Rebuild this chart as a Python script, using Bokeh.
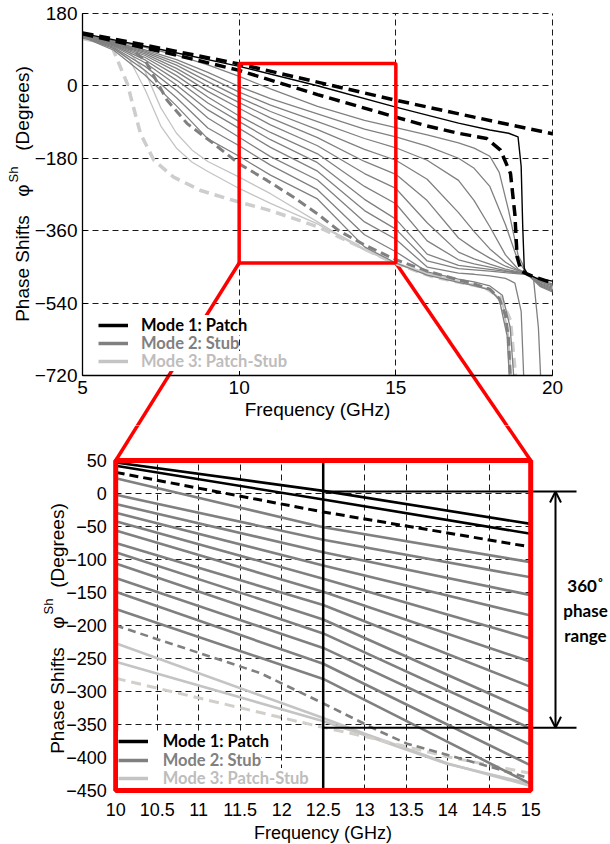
from bokeh.plotting import figure
from bokeh.models import (Range1d, FixedTicker, NumeralTickFormatter, Arrow, OpenHead,
                          Label, Legend, LegendItem, BoxAnnotation, Grid)
from bokeh.layouts import column
from bokeh.embed import file_html
from bokeh.resources import INLINE
import math

# ======================= DATA : overview plot (top) =======================
top_x_ticks = [5, 10, 15, 20]
top_y_ticks = [-720, -540, -360, -180, 0, 180]

patch_dash_hi_x = [5, 7.5, 10, 12.5, 15, 17.5, 20]
patch_dash_hi_y = [131, 93, 54, 9, -36, -78, -119]
patch_solid_x = [5, 7.5, 10, 12.5, 15, 17, 18, 18.6, 18.9, 19.0, 19.05, 19.1, 19.2, 19.5, 20]
patch_solid_y = [130, 90, 48, 0, -53, -93, -110, -118, -127, -200, -350, -455, -467, -478, -485]
patch_dash_lo_x = [5, 7.5, 10, 12.5, 15, 16, 17, 17.9, 18.34, 18.66, 18.8, 18.87, 19.0, 19.2, 20]
patch_dash_lo_y = [129, 85, 38, -22, -78, -100, -118, -131, -160, -218, -320, -425, -460, -468, -490]

stub_head_x = [5, 6, 7, 8, 9, 10, 11, 12.5, 14, 15, 16, 17]
stub_head_y = [
    [127, 111, 95, 76, 52, 23, -8, -51, -86, -104, -122, -142],
    [126, 108, 89, 65, 33, -2, -32, -70, -108, -127, -150, -180],
    [126, 107, 86, 58, 22, -16, -48, -89, -131, -154, -185, -235],
    [125, 106, 83, 51, 10, -29, -64, -109, -158, -185, -232, -315],
    [125, 105, 79, 43, -2, -42, -80, -129, -188, -220, -285, -378],
    [124, 103, 75, 35, -14, -56, -97, -149, -218, -255, -340, -413],
    [124, 102, 70, 25, -28, -75, -116, -169, -250, -293, -385, -432],
    [123, 100, 64, 14, -43, -89, -134, -191, -282, -331, -418, -446],
    [123, 98, 57, 2, -60, -106, -153, -212, -310, -356, -435, -454],
    [122, 95, 48, -12, -80, -128, -176, -234, -338, -381, -450, -465],
    [122, 92, 38, -30, -105, -149, -197, -258, -370, -412, -462, -480],
    [121, 88, 26, -50, -132, -175, -222, -281, -400, -440, -470, -488],
]
stub_tail_x = [
    [17.5, 18, 18.3, 18.6, 18.9, 19.2, 19.6, 20],
    [17.5, 18, 18.5, 18.9, 19.2, 19.6, 20],
    [17.5, 18, 18.5, 18.9, 19.2, 19.6, 20],
    [17.5, 18, 18.5, 18.9, 19.2, 19.6, 20],
    [17.5, 18, 18.5, 19.2, 19.6, 20],
    [17.5, 18, 18.5, 19.2, 19.6, 20],
    [17.5, 18, 18.5, 19.2, 19.6, 20],
    [17.5, 18, 18.5, 19.2, 19.6, 20],
    [17.5, 18, 18.5, 19.2, 19.4, 19.55, 19.62],
    [17.5, 18, 18.5, 18.8, 19.0, 19.08],
    [17.5, 18, 18.4, 18.65, 18.76],
    [17.5, 18, 18.3, 18.55, 18.62],
]
stub_tail_y = [
    [-155, -175, -215, -310, -420, -467, -483, -492],
    [-205, -250, -345, -435, -467, -485, -495],
    [-285, -350, -420, -455, -467, -487, -497],
    [-362, -405, -438, -458, -467, -490, -500],
    [-405, -428, -448, -467, -492, -503],
    [-430, -443, -455, -467, -494, -506],
    [-442, -450, -459, -467, -496, -509],
    [-451, -456, -461, -467, -498, -512],
    [-457, -460, -464, -469, -483, -600, -720],
    [-468, -472, -478, -490, -560, -720],
    [-487, -497, -520, -600, -720],
    [-496, -507, -530, -620, -720],
]

stub_dash_x = [5, 6, 6.5, 7, 7.7, 8.34, 9.19, 10, 10.89, 11.74, 12.5, 13.2, 14, 15, 16, 17,
               17.5, 18, 18.3, 18.5, 18.6, 18.65]
stub_dash_y = [120, 106, 94, 63, -36, -94, -144, -194, -235, -277, -318, -361, -395, -432, -460,
               -482, -492, -505, -528, -570, -630, -720]

ps_solid_x = [5, 6, 6.5, 7, 7.5, 8, 8.5, 9, 10, 11, 12.5, 13, 14, 15, 16, 17, 18, 18.4, 18.6, 18.68]
ps_solid1_y = [118, 100, 82, 35, -55, -118, -160, -188, -227, -268, -338, -362, -405, -440, -465,
               -485, -505, -535, -620, -720]
ps_solid2_y = [117, 96, 65, -10, -100, -155, -190, -213, -255, -292, -343, -365, -408, -442, -467,
               -487, -507, -540, -630, -720]
ps_dash_x = [5, 5.9, 6.43, 6.85, 7.28, 7.91, 8.77, 9.83, 11, 12.5, 14, 14.88, 16.21, 17.81, 18.34,
             18.66, 18.82]
ps_dash_y = [117, 104, 5, -119, -185, -227, -260, -285, -310, -350, -405, -438, -475, -500, -525,
             -583, -720]

zoom_box_f = [10, 15]
zoom_box_phase = [-440, 55]

# ======================= DATA : zoomed plot (bottom) =======================
zoom_x_ticks = [10, 10.5, 11, 11.5, 12, 12.5, 13, 13.5, 14, 14.5, 15]
zoom_y_ticks = [-450, -400, -350, -300, -250, -200, -150, -100, -50, 0, 50]

zoom_f3 = [10, 12.5, 15]
zoom_patch_a = [47, 4, -46]
zoom_patch_b = [42, -9, -61]
zoom_patch_dash = [32, -28, -81]
zoom_stub_left = [23, -2, -16, -29, -42, -56, -75, -89, -106, -128, -149, -175]
zoom_stub_mid = [-51, -70, -89, -109, -129, -149, -169, -191, -212, -234, -258, -281]
zoom_stub_right = [-104, -127, -154, -185, -220, -255, -293, -331, -356, -381, -412, -440]
zoom_stub_dash_x = [10, 11.74, 12.5, 13.19, 13.51, 14.51, 15]
zoom_stub_dash_y = [-200, -272, -318, -361, -379, -414, -432]
zoom_ps_x = [10, 12.45, 13, 14, 15]
zoom_ps1_y = [-227, -338, -364, -409, -443]
zoom_ps2_y = [-255, -343, -366, -410, -440]
zoom_ps_dash_y = [-280, -353, -368, -399, -424]

ref_freq = 12.5
range_top = 3
range_bottom = -355

legend_labels = ["Mode 1: Patch", "Mode 2: Stub", "Mode 3: Patch-Stub"]
range_text = ["360\u02da", "phase", "range"]

# ======================= STYLE / LAYOUT =======================
BLACK = "#000000"
GRAY = "#808080"
LIGHT = "#c4c4c4"
LIGHT_TXT = "#bdbdbd"
LIGHT_DASH = "#d2cfca"
RED = "#ff0000"
TICK_FONT = "Liberation Sans"
LEG_FONT = "Lato"

W = 610
TOP_H = 425
BOT_H = 418
# page-pixel positions of the plot areas
T_X5, T_X20, T_Y180, T_YM720 = 82.0, 552.0, 12.7, 375.3
B_X10, B_X15, B_Y50, B_YM450 = 115.2, 530.2, 460.0, 790.0

sx = (T_X20 - T_X5) / 15.0
sy = (T_YM720 - T_Y180) / 900.0
bsx = (B_X15 - B_X10) / 5.0
bsy = (B_YM450 - B_Y50) / 500.0

def t_x(px): return 5 + (px - T_X5) / sx
def t_y(py): return 180 - (py - T_Y180) / sy
def t_px(x): return T_X5 + (x - 5) * sx
def t_py(y): return T_Y180 + (180 - y) * sy
def b_x(px): return 10 + (px - B_X10) / bsx
def b_y(py): return 50 - (py - B_Y50) / bsy
def b_px(x): return B_X10 + (x - 10) * bsx
def b_py(y): return B_Y50 + (50 - y) * bsy

HAS_CROSS = "cross_bounds" in Grid.properties()


def make_fig(xr, yr, h):
    p = figure(width=W, height=h, min_border=0, x_range=Range1d(*xr), y_range=Range1d(*yr),
               output_backend="svg", toolbar_location=None, outline_line_color=None,
               background_fill_color="white", border_fill_color="white")
    return p


def style_axes(p, size, xb, yb, xticks, yticks):
    p.xaxis.ticker = FixedTicker(ticks=xticks)
    p.yaxis.ticker = FixedTicker(ticks=yticks)
    p.xaxis.fixed_location = yb[0]
    p.yaxis.fixed_location = xb[0]
    p.xaxis.bounds = tuple(xb)
    p.yaxis.bounds = tuple(yb)
    for ax in (p.xaxis, p.yaxis):
        ax.major_label_text_font = TICK_FONT
        ax.major_label_text_font_size = size
        ax.major_label_text_color = "black"
        ax.axis_label_text_font = TICK_FONT
        ax.axis_label_text_font_size = size
        ax.axis_label_text_font_style = "normal"
        ax.axis_label_text_color = "black"
        ax.minor_tick_line_color = None
    for g, cb in ((p.xgrid, yb), (p.ygrid, xb)):
        g.grid_line_color = "#1a1a1a"
        g.grid_line_dash = "6 4"
        g.grid_line_width = 1
        if HAS_CROSS:
            g.cross_bounds = tuple(cb)
        else:
            g.visible = False
    if not HAS_CROSS:
        p.segment(x0=xticks, y0=yb[0], x1=xticks, y1=yb[1], line_color="#1a1a1a",
                  line_dash="6 4", line_width=1, level="underlay")
        p.segment(x0=xb[0], y0=yticks, x1=xb[1], y1=yticks, line_color="#1a1a1a",
                  line_dash="6 4", line_width=1, level="underlay")


def ylabel_parts(p, fx, fy, centers, size):
    texts = ["Phase Shifts", "\u03c6", "Sh", "(Degrees)"]
    sizes = [size, size, "13px", size]
    for t, (cx, cy), s in zip(texts, centers, sizes):
        p.add_layout(Label(x=fx(cx), y=fy(cy), text=t, angle=math.pi / 2,
                           text_align="center", text_baseline="middle",
                           text_font=TICK_FONT, text_font_size=s, text_color="black"))


def add_legend(p, fx, fy, colors, tcolors, rows, x0, canvas_bottom, standoff):
    pad = 4
    for lab, col, tcol, cy in zip(legend_labels, colors, tcolors, rows):
        # sample-only renderer: its two points lie outside the visible ranges
        r = p.line([fx(-50), fx(-40)], [fy(2000), fy(2000)], line_color=col, line_width=3.5)
        leg = Legend(items=[LegendItem(label=lab, renderers=[r])],
                     location=(x0 - pad, canvas_bottom - (cy + 9 + pad)),
                     padding=pad, margin=0, spacing=0, glyph_width=30, glyph_height=18,
                     label_height=18, label_standoff=standoff,
                     label_text_font=LEG_FONT, label_text_font_style="bold",
                     label_text_font_size="16.5px", label_text_color=tcol,
                     border_line_color=None, background_fill_color="white",
                     background_fill_alpha=1.0)
        p.add_layout(leg)


# ======================= TOP FIGURE =======================
top = make_fig((t_x(0), t_x(W)), (t_y(TOP_H), t_y(0)), TOP_H)
style_axes(top, "19px", (5, 20), (-720, 180), top_x_ticks, top_y_ticks)
top.xaxis.axis_label = "Frequency (GHz)"
top.xaxis.major_label_standoff = 5
top.xaxis.axis_label_standoff = 2
top.yaxis.major_label_standoff = 5
for ax in (top.xaxis, top.yaxis):
    ax.axis_line_color = "black"
    ax.axis_line_width = 1.3
    ax.major_tick_in = 5
    ax.major_tick_out = 0
    ax.major_tick_line_color = "black"

# red connecting lines (first half, drawn on the overview canvas)
conn = []
for f in zoom_box_f:
    p1 = (t_px(f), t_py(zoom_box_phase[0]))
    p2 = (b_px(f), b_py(50))
    def at(py, p1=p1, p2=p2):
        t = (py - p1[1]) / (p2[1] - p1[1])
        return p1[0] + t * (p2[0] - p1[0])
    conn.append((f, at))
    ye = TOP_H + 4
    top.line([f, t_x(at(ye))], [zoom_box_phase[0], t_y(ye)], line_color=RED, line_width=3.5)

top.line(ps_solid_x, ps_solid1_y, line_color=LIGHT, line_width=1.3)
top.line(ps_solid_x, ps_solid2_y, line_color=LIGHT, line_width=1.3)
top.line(ps_dash_x, ps_dash_y, line_color="#cdcdcd", line_width=3.5, line_dash="10 6")
for ys, tx, ty in zip(stub_head_y, stub_tail_x, stub_tail_y):
    top.line(stub_head_x + tx, ys + ty, line_color=GRAY, line_width=1.3)
top.line(stub_dash_x, stub_dash_y, line_color=GRAY, line_width=3, line_dash="9 5")
top.line(patch_solid_x, patch_solid_y, line_color=BLACK, line_width=1.4)
top.line(patch_dash_lo_x, patch_dash_lo_y, line_color=BLACK, line_width=3.5, line_dash="11 6")
top.line(patch_dash_hi_x, patch_dash_hi_y, line_color=BLACK, line_width=3.5, line_dash="11 6")

top.add_layout(BoxAnnotation(left=zoom_box_f[0], right=zoom_box_f[1], bottom=zoom_box_phase[0],
                             top=zoom_box_phase[1], fill_color=None, fill_alpha=0,
                             line_color=RED, line_alpha=1.0, line_width=3.5))

ylabel_parts(top, t_x, t_y, [(22, 268), (22, 190), (13, 174), (22, 108)], "19px")
add_legend(top, t_x, t_y, [BLACK, GRAY, LIGHT], [BLACK, GRAY, LIGHT_TXT], [321.7, 340, 358.3],
           102, TOP_H, 13)

# ======================= BOTTOM FIGURE =======================
bot = make_fig((b_x(0), b_x(W)), (b_y(TOP_H + BOT_H), b_y(TOP_H)), BOT_H)
style_axes(bot, "18px", (10, 15), (-450, 50), zoom_x_ticks, zoom_y_ticks)
bot.xaxis.formatter = NumeralTickFormatter(format="0.[0]")
bot.xaxis.axis_label = "Frequency (GHz)"
bot.xaxis.major_label_standoff = 6
bot.xaxis.axis_label_standoff = 4
bot.yaxis.major_label_standoff = 3
for ax in (bot.xaxis, bot.yaxis):
    ax.axis_line_color = None
    ax.major_tick_line_color = None

# red connecting lines (second half)
for f, at in conn:
    ys = TOP_H - 4
    bot.line([b_x(at(ys)), f], [b_y(ys), 50], line_color=RED, line_width=3.5)

for ys in (zoom_ps1_y, zoom_ps2_y):
    bot.line(zoom_ps_x, ys, line_color=LIGHT, line_width=2.6)
bot.line(zoom_ps_x, zoom_ps_dash_y, line_color=LIGHT_DASH, line_width=3, line_dash="10 6")
for a, m, b in zip(zoom_stub_left, zoom_stub_mid, zoom_stub_right):
    bot.line(zoom_f3, [a, m, b], line_color=GRAY, line_width=2.6)
bot.line(zoom_stub_dash_x, zoom_stub_dash_y, line_color=GRAY, line_width=2.6, line_dash="8 5")
bot.line(zoom_f3, zoom_patch_a, line_color=BLACK, line_width=2.6)
bot.line(zoom_f3, zoom_patch_b, line_color=BLACK, line_width=2.6)
bot.line(zoom_f3, zoom_patch_dash, line_color=BLACK, line_width=3, line_dash="9 5")

bot.line([ref_freq, ref_freq], [-450, 50], line_color=BLACK, line_width=2.5)
x_far = b_x(576)
for yv in (range_top, range_bottom):
    bot.line([ref_freq, x_far], [yv, yv], line_color=BLACK, line_width=2)
x_arr = b_x(555)
bot.add_layout(Arrow(x_start=x_arr, y_start=range_bottom, x_end=x_arr, y_end=range_top,
                     start=OpenHead(size=11, line_width=2), end=OpenHead(size=11, line_width=2),
                     line_color=BLACK, line_width=2))
for txt, cy in zip(range_text, [585, 610, 635]):
    bot.add_layout(Label(x=b_x(585), y=b_y(cy), text=txt, text_align="center",
                         text_baseline="middle", text_font=LEG_FONT, text_font_style="bold",
                         text_font_size="17px", text_color="black"))

ylabel_parts(bot, b_x, b_y, [(57, 700), (57, 622), (48, 606), (57, 545)], "19px")
add_legend(bot, b_x, b_y, [BLACK, GRAY, LIGHT], [BLACK, GRAY, LIGHT_TXT], [738.3, 756.7, 775],
           121.7, TOP_H + BOT_H, 15)

bot.add_layout(BoxAnnotation(left=10, right=15, bottom=-450, top=50, fill_color=None,
                             fill_alpha=0, line_color=RED, line_alpha=1.0, line_width=5))

layout = column(top, bot, spacing=0)
open("out.html", "w").write(file_html(layout, INLINE))
